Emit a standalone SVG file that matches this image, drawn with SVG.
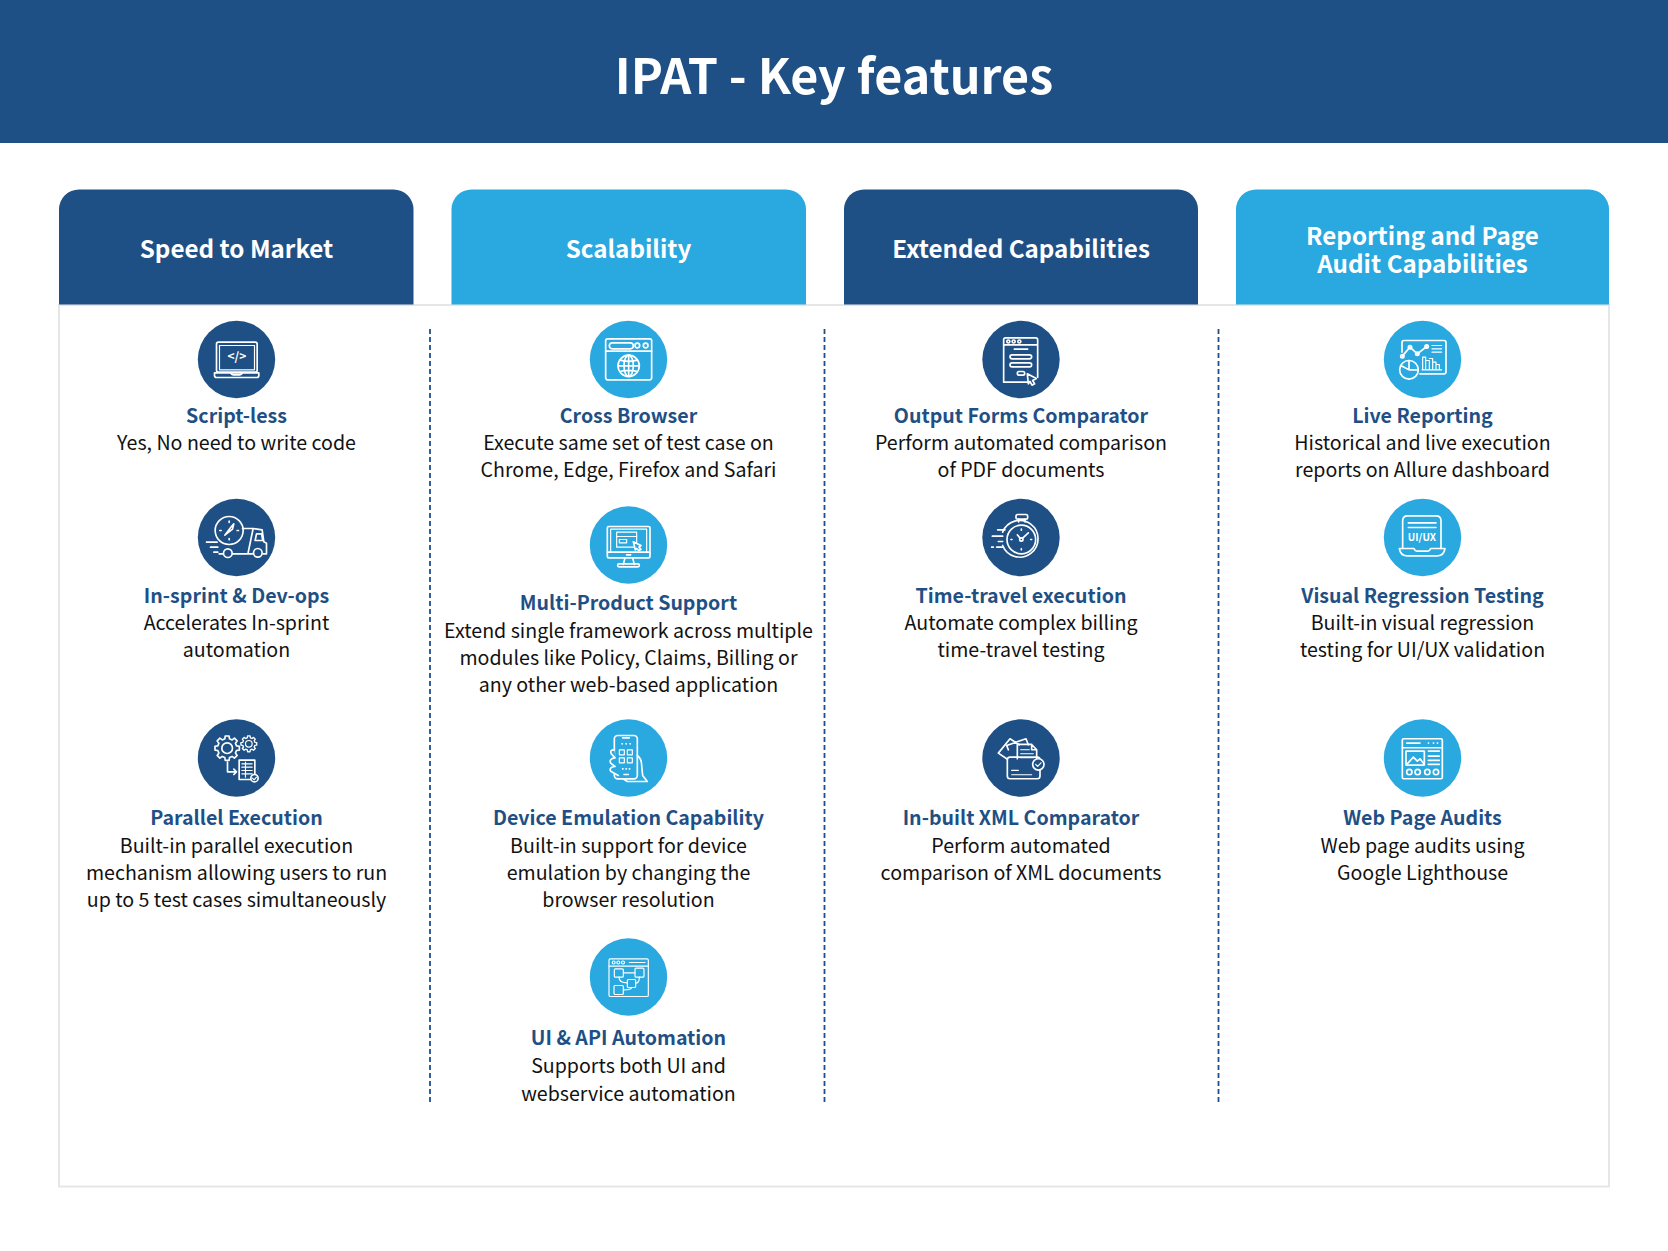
<svg xmlns="http://www.w3.org/2000/svg" xmlns:xlink="http://www.w3.org/1999/xlink" width="1668" height="1251" viewBox="0 0 1668 1251">
<style>
text{font-family:"Noto Sans CJK SC","Noto Sans",sans-serif;text-anchor:middle}
.t{font-size:48.400px;font-weight:700;fill:#fff}
.c{font-size:24.200px;font-weight:700;fill:#fff}
.h{font-size:19.600px;font-weight:700;fill:#1f5085}
.b{font-size:19.600px;font-weight:400;fill:#111}
.d{fill:#1f5085}.l{fill:#2aa8e0}
.ic{fill:none;stroke:#fff;stroke-width:5;stroke-linecap:round;stroke-linejoin:round}
.th{stroke-width:3.5}
.it{fill:#fff;stroke:none;font-weight:700}
.dash{stroke:#1f5085;stroke-width:1.8;stroke-dasharray:5 3;fill:none}
</style>
<defs>
<polygon id="gear" points=".757,-.189 .988,-.156 .988,.156 .757,.189 .669,.402 .809,.588 .588,.809 .402,.669 .189,.757 .156,.988 -.156,.988 -.189,.757 -.402,.669 -.588,.809 -.809,.588 -.669,.402 -.757,.189 -.988,.156 -.988,-.156 -.757,-.189 -.669,-.402 -.809,-.588 -.588,-.809 -.402,-.669 -.189,-.757 -.156,-.988 .156,-.988 .189,-.757 .402,-.669 .588,-.809 .809,-.588 .669,-.402"/>
</defs>
<rect width="1668" height="1251" fill="#fff"/>
<rect class="d" width="1668" height="143"/>
<text class="t" x="834" y="94">IPAT - Key features</text>
<rect id="panel" x="59" y="305" width="1550" height="881.500" fill="#fff" stroke="#e6e6e6" stroke-width="2"/>

<g id="connectors">
<path class="dash" d="M430 329V1102"/>
<path class="dash" d="M824.500 329V1102"/>
<path class="dash" d="M1218.500 329V1102"/>
</g>

<g id="col-speed"><path class="d" d="M59 304.500V209.500a20 20 0 0 1 20-20H393.500a20 20 0 0 1 20 20V304.500Z"/><text class="c" x="236.500" y="258">Speed to Market</text></g>
<g id="col-scal"><path class="l" d="M451.500 304.500V209.500a20 20 0 0 1 20-20H786a20 20 0 0 1 20 20V304.500Z"/><text class="c" x="628.500" y="258">Scalability</text></g>
<g id="col-ext"><path class="d" d="M844 304.500V209.500a20 20 0 0 1 20-20H1178a20 20 0 0 1 20 20V304.500Z"/><text class="c" x="1021" y="258">Extended Capabilities</text></g>
<g id="col-rep"><path class="l" d="M1236 304.500V209.500a20 20 0 0 1 20-20H1589a20 20 0 0 1 20 20V304.500Z"/><text class="c" x="1422.500" y="245">Reporting and Page</text><text class="c" x="1422.500" y="273">Audit Capabilities</text></g>

<g id="script-less">
<circle class="d" cx="236.500" cy="359.500" r="38.700"/>
<g class="ic" transform="translate(180.500 310.500) scale(.3333)">
<rect x="108" y="95" width="122" height="90" rx="6"/><rect class="th" x="117" y="105" width="105" height="73"/>
<path d="M102 187H235V195q0 6-6 6H108q-6 0-6-6ZM150 187q3 6 8 6h20q5 0 8-6"/>
<text class="it" x="169" y="153" font-size="36">&lt;/&gt;</text>
</g>
<text class="h" x="236.500" y="423">Script-less</text>
<text class="b" x="236.500" y="450">Yes, No need to write code</text>
</g>

<g id="in-sprint">
<circle class="d" cx="236.500" cy="537.500" r="38.700"/>
<g class="ic" transform="translate(180.500 490.500) scale(.3333)">
<circle cx="146" cy="120" r="42"/>
<path d="M146 92v4M146 144v4M118 120h4M170 120h4M133 134L150 112L160 100L156 116Z"/>
<path d="M186 114H218L203 186M218 114L245 118L250 154L258 158V190H248M216 190H156M128 190H116M228 130H243L247 150H224Z"/>
<circle cx="142" cy="188" r="13"/><circle cx="232" cy="187" r="13"/>
<path d="M78 155H110M90 170H112M100 185H112"/>
</g>
<text class="h" x="236.500" y="603">In-sprint &amp; Dev-ops</text>
<text class="b" x="236.500" y="630">Accelerates In-sprint</text>
<text class="b" x="236.500" y="657">automation</text>
</g>

<g id="parallel">
<circle class="d" cx="236.500" cy="758" r="38.700"/>
<g class="ic" transform="translate(180.500 710.500) scale(.3333)">
<use xlink:href="#gear" href="#gear" transform="translate(140 113) scale(37)" stroke-width=".135"/>
<circle cx="140" cy="113" r="16"/>
<use xlink:href="#gear" href="#gear" transform="translate(205 100) scale(24)" stroke-width=".17"/>
<circle class="th" cx="205" cy="100" r="10"/>
<path d="M141 155V184H168M160 176l8 8-8 8"/>
<rect x="176" y="149" width="47" height="58"/>
<path class="th" d="M184 160H215M184 170H215M184 180H215M184 190H215M195 155V200"/>
<circle cx="222" cy="203" r="11" fill="#1f5085"/><path class="th" d="M216 203l5 5 7-8"/>
</g>
<text class="h" x="236.500" y="825">Parallel Execution</text>
<text class="b" x="236.500" y="853">Built-in parallel execution</text>
<text class="b" x="236.500" y="880">mechanism allowing users to run</text>
<text class="b" x="236.500" y="907">up to 5 test cases simultaneously</text>
</g>

<g id="cross-browser">
<circle class="l" cx="628.500" cy="359.500" r="38.700"/>
<g class="ic" transform="translate(570 310.500) scale(.3333)">
<rect x="107" y="85" width="138" height="123" rx="6"/><path d="M107 122H245"/>
<rect x="118" y="97" width="72" height="18" rx="9"/><circle cx="202" cy="105" r="7"/><circle cx="227" cy="105" r="7"/>
<circle cx="176" cy="166" r="32"/><ellipse cx="176" cy="166" rx="14" ry="32"/>
<path d="M176 134V198M144 166H208M150 149Q176 156 202 149M150 183Q176 176 202 183"/>
</g>
<text class="h" x="628.500" y="423">Cross Browser</text>
<text class="b" x="628.500" y="450">Execute same set of test case on</text>
<text class="b" x="628.500" y="477">Chrome, Edge, Firefox and Safari</text>
</g>

<g id="multi-product">
<circle class="l" cx="628.500" cy="545" r="38.700"/>
<g class="ic" transform="translate(570 500.500) scale(.3333)">
<rect x="112" y="78" width="128" height="94" rx="5"/><path d="M112 155H240"/>
<path class="th" d="M122 155V86H230V155"/>
<rect class="th" x="140" y="95" width="60" height="45"/><path class="th" d="M140 108H200"/>
<rect class="th" x="148" y="117" width="22" height="10"/>
<path d="M190 124L213 135L207 140L213 147L206 150L200 144L196 148Z" fill="#2aa8e0"/>
<path d="M165 172L160 192M188 172L193 192"/><rect x="143" y="190" width="65" height="9" rx="4"/>
<path d="M170 163H182"/>
</g>
<text class="h" x="628.500" y="610">Multi-Product Support</text>
<text class="b" x="628.500" y="638">Extend single framework across multiple</text>
<text class="b" x="628.500" y="665">modules like Policy, Claims, Billing or</text>
<text class="b" x="628.500" y="692">any other web-based application</text>
</g>

<g id="device-emulation">
<circle class="l" cx="628.500" cy="758" r="38.700"/>
<g class="ic" transform="translate(570 710.500) scale(.3333)">
<rect x="133" y="75" width="69" height="130" rx="10"/><path d="M158 82H178M156 100h1M168 100h1M180 100h1M158 175h1M168 175h1M178 175h1M162 192H175"/>
<rect class="th" x="148" y="118" width="15" height="15"/><rect class="th" x="172" y="118" width="15" height="15"/><rect class="th" x="148" y="142" width="15" height="15"/><rect class="th" x="172" y="142" width="15" height="15"/>
<path d="M202 135Q215 145 215 165L218 195L232 213H172L160 205"/>
<path d="M133 118Q118 118 124 130L135 142Q116 145 122 158L135 168Q116 170 122 182L145 195" fill="#2aa8e0"/>
</g>
<text class="h" x="628.500" y="825">Device Emulation Capability</text>
<text class="b" x="628.500" y="853">Built-in support for device</text>
<text class="b" x="628.500" y="880">emulation by changing the</text>
<text class="b" x="628.500" y="907">browser resolution</text>
</g>

<g id="ui-api">
<circle class="l" cx="628.500" cy="977" r="38.700"/>
<g class="ic th" transform="translate(570 930.500) scale(.3333)">
<rect x="117" y="85" width="118" height="113" rx="4"/><path d="M117 107H235M178 96H225"/>
<circle cx="131" cy="96" r="4.500"/><circle cx="145" cy="96" r="4.500"/><circle cx="159" cy="96" r="4.500"/>
<rect x="133" y="115" width="27" height="25" rx="3"/><rect x="195" y="113" width="27" height="27" rx="3"/><rect x="172" y="147" width="25" height="24" rx="3"/><rect x="132" y="165" width="28" height="27" rx="3"/>
<path d="M160 127H195M147 140Q147 157 172 157M185 171Q185 178 160 178M197 158Q208 158 208 140"/>
</g>
<text class="h" x="628.500" y="1045">UI &amp; API Automation</text>
<text class="b" x="628.500" y="1073">Supports both UI and</text>
<text class="b" x="628.500" y="1101">webservice automation</text>
</g>

<g id="output-forms">
<circle class="d" cx="1021" cy="359.500" r="38.700"/>
<g class="ic" transform="translate(960 310.500) scale(.3333)">
<path d="M205 215H131V88q0-6 6-6H227q6 0 6 6V200M131 103H233"/>
<circle cx="145" cy="93" r="4.500"/><circle cx="161" cy="93" r="4.500"/><circle cx="178" cy="93" r="4.500"/>
<path d="M163 116H203"/><rect x="150" y="133" width="65" height="12" rx="6"/><rect x="150" y="157" width="65" height="12" rx="6"/><rect x="172" y="183" width="22" height="11" rx="5"/>
<path d="M202 190L229 204L218 210L224 220L216 224L210 213L205 220Z" fill="#1f5085"/>
</g>
<text class="h" x="1021" y="423">Output Forms Comparator</text>
<text class="b" x="1021" y="450">Perform automated comparison</text>
<text class="b" x="1021" y="477">of PDF documents</text>
</g>

<g id="time-travel">
<circle class="d" cx="1021" cy="537.500" r="38.700"/>
<g class="ic" transform="translate(960 310.500) scale(.3333)">
<path d="M128 665A55 55 0 1 1 128 705"/><circle cx="184" cy="687" r="43"/>
<rect x="168" y="612" width="35" height="14" rx="5"/><path d="M176 626V634M195 626V634"/>
<circle cx="184" cy="687" r="5"/><path d="M180 683L172 673M188 683L205 667M184 656v3M184 715v3M153 687h3M212 687h3"/>
<path d="M97 677H128M113 658H135M115 693H128M110 710H128M95 710H100"/>
</g>
<text class="h" x="1021" y="603">Time-travel execution</text>
<text class="b" x="1021" y="630">Automate complex billing</text>
<text class="b" x="1021" y="657">time-travel testing</text>
</g>

<g id="xml-comparator">
<circle class="d" cx="1021" cy="758" r="38.700"/>
<g class="ic" transform="translate(960 310.500) scale(.3333)">
<path d="M140 1345L115 1328L150 1285L178 1303M145 1318L140 1305L198 1285L205 1303"/>
<path d="M172 1345V1302H215L230 1318V1345M215 1302V1318H230"/>
<path class="th" d="M182 1318H208M182 1330H220M182 1342H220"/>
<path d="M142 1348q0-8 8-8H232q8 0 8 8V1397q0 8-8 8H150q-8 0-8-8Z"/>
<path class="th" d="M155 1380H175M155 1393H215"/>
<circle cx="235" cy="1362" r="17" fill="#1f5085"/><path class="th" d="M227 1362l6 6 10-11"/>
</g>
<text class="h" x="1021" y="825">In-built XML Comparator</text>
<text class="b" x="1021" y="853">Perform automated</text>
<text class="b" x="1021" y="880">comparison of XML documents</text>
</g>

<g id="live-reporting">
<circle class="l" cx="1422.500" cy="359.500" r="38.700"/>
<g class="ic" transform="translate(1360 310.500) scale(.3333)">
<path d="M126 125V96q0-6 6-6H252q6 0 6 6V184q0 6-6 6H180"/>
<path d="M127 137L150 110L172 130L200 108"/><circle cx="127" cy="137" r="5"/><circle cx="150" cy="110" r="5"/><circle cx="172" cy="130" r="5"/><circle cx="200" cy="108" r="5"/>
<path class="th" d="M216 105H245M216 115H245M216 125H245"/>
<path class="th" d="M188 178V140H197V178M197 150H208V178M208 144H218V178M218 155H228V178M228 162H238V178M186 178H245"/>
<circle cx="147" cy="178" r="28" fill="#2aa8e0"/><path d="M147 178V150M147 178L122 165M147 178H174"/>
</g>
<text class="h" x="1422.500" y="423">Live Reporting</text>
<text class="b" x="1422.500" y="450">Historical and live execution</text>
<text class="b" x="1422.500" y="477">reports on Allure dashboard</text>
</g>

<g id="visual-regression">
<circle class="l" cx="1422.500" cy="537.500" r="38.700"/>
<g class="ic" transform="translate(1360 310.500) scale(.3333)">
<path d="M128 714V631q0-15 15-15H228q15 0 15 15V714"/>
<path d="M145 637H228M145 651H228"/>
<text class="it" x="186" y="691" font-size="30">UI/UX</text>
<path d="M118 714H162q3 8 8 8h34q5 0 8-8H255q-3 22-22 22H140q-19 0-22-22Z"/>
</g>
<text class="h" x="1422.500" y="603">Visual Regression Testing</text>
<text class="b" x="1422.500" y="630">Built-in visual regression</text>
<text class="b" x="1422.500" y="657">testing for UI/UX validation</text>
</g>

<g id="web-audits">
<circle class="l" cx="1422.500" cy="758" r="38.700"/>
<g class="ic" transform="translate(1360 310.500) scale(.3333)">
<rect x="127" y="1285" width="120" height="120" rx="4"/><path d="M127 1312H247M140 1298H180M205 1298h1M220 1298h1M232 1298h1"/>
<rect x="138" y="1322" width="55" height="42"/><path d="M142 1360L160 1340L172 1352L180 1345L192 1360"/>
<path d="M205 1322H238M205 1337H238M205 1350H238M205 1362H238"/>
<circle cx="148" cy="1385" r="8"/><circle cx="173" cy="1385" r="8"/><circle cx="202" cy="1385" r="8"/><circle cx="228" cy="1385" r="8"/>
</g>
<text class="h" x="1422.500" y="825">Web Page Audits</text>
<text class="b" x="1422.500" y="853">Web page audits using</text>
<text class="b" x="1422.500" y="880">Google Lighthouse</text>
</g>
</svg>
